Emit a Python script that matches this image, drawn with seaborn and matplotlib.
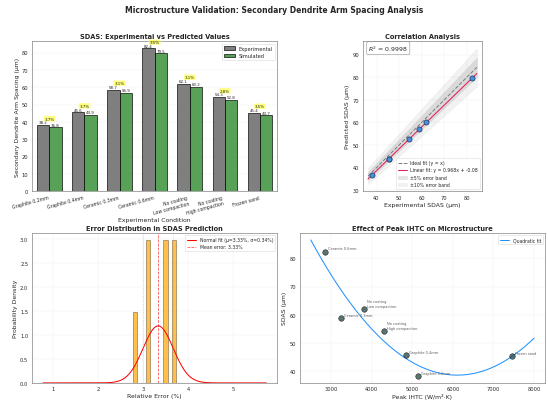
import numpy as np
import pandas as pd
import matplotlib
matplotlib.use('Agg')
import matplotlib.pyplot as plt
import seaborn as sns

sns.set_style('whitegrid')
plt.rcParams['font.family'] = ['DejaVu Sans']
plt.rcParams['axes.edgecolor'] = '0.45'
plt.rcParams['axes.linewidth'] = 1.2

# data
conditions = ['Graphite 0.2mm', 'Graphite 0.4mm', 'Ceramic 0.3mm', 'Ceramic 0.6mm',
              'No coating\nLow compaction', 'No coating\nHigh compaction', 'Frozen sand']
sdas_exp = [38.2, 45.6, 58.7, 82.4, 62.1, 54.3, 45.4]
sdas_sim = [36.8, 43.9, 56.9, 79.5, 60.2, 52.8, 43.7]
rel_error = [3.67, 3.73, 3.06, 3.51, 3.07, 2.77, 3.49]
peak_ihtc = [5150, 4850, 3250, 2850, 3800, 4300, 7450]
r2_text = '0.9998'
fit_slope, fit_icpt = 0.968, -0.08

df = pd.DataFrame({'cond': conditions, 'Experimental': sdas_exp, 'Simulated': sdas_sim})
long_df = df.melt(id_vars='cond', var_name='kind', value_name='sdas')

fig, axes = plt.subplots(2, 2, figsize=(15, 11))
fig.suptitle('Microstructure Validation: Secondary Dendrite Arm Spacing Analysis',
             fontsize=15, fontweight='bold', y=0.985)

# (1) bar chart
ax = axes[0, 0]
sns.barplot(data=long_df, x='cond', y='sdas', hue='kind', ax=ax,
            palette=['dimgray', '#2ca02c'], alpha=0.85, edgecolor='black',
            linewidth=1.5, width=0.7, gap=0)
for cont in ax.containers:
    ax.bar_label(cont, fmt='%.1f', fontsize=8, padding=1)
for i, (e, s, err) in enumerate(zip(sdas_exp, sdas_sim, rel_error)):
    ax.text(i, max(e, s) + 2.5, f'{err:.1f}%', ha='center', va='bottom', fontsize=8,
            bbox=dict(boxstyle='round,pad=0.2', facecolor='yellow', alpha=0.5))
ax.set_title('SDAS: Experimental vs Predicted Values', fontsize=13, fontweight='bold')
ax.set_xlabel('Experimental Condition', fontsize=12)
ax.set_ylabel('Secondary Dendrite Arm Spacing (μm)', fontsize=12)
ax.set_xticks(range(len(conditions)))
ax.set_xticklabels(conditions, rotation=15, ha='right', fontsize=9)
ax.legend(title=None, fontsize=10, loc='upper right')
ax.grid(axis='x', visible=False)
ax.grid(axis='y', alpha=0.3)

# (2) correlation
ax = axes[0, 1]
xs = np.linspace(min(sdas_exp) - 2, max(sdas_exp) + 2, 100)
ax.fill_between(xs, xs * 0.95, xs * 1.05, color='gray', alpha=0.2, label='±5% error band')
ax.fill_between(xs, xs * 0.90, xs * 1.10, color='gray', alpha=0.1, label='±10% error band')
ax.plot(xs, xs, '--', color='gray', lw=2, label='Ideal fit (y = x)')
ax.plot(xs, fit_slope * xs + fit_icpt, '-', color='#e6195a', lw=2,
        label=f'Linear fit: y = {fit_slope:.3f}x + {fit_icpt:.2f}')
sns.scatterplot(x=sdas_exp, y=sdas_sim, ax=ax, s=100, color='#4a90d9',
                edgecolor='#1f3f6f', linewidth=1.5, zorder=5)
ax.text(0.05, 0.985, f'$R^2$ = {r2_text}', transform=ax.transAxes, fontsize=12,
        va='top', bbox=dict(boxstyle='round', facecolor='white', edgecolor='0.4', alpha=0.8))
h, l = ax.get_legend_handles_labels()
order = [2, 3, 0, 1]
ax.legend([h[k] for k in order], [l[k] for k in order], loc='lower right', fontsize=9)
ax.set_title('Correlation Analysis', fontsize=13, fontweight='bold')
ax.set_xlabel('Experimental SDAS (μm)', fontsize=12)
ax.set_ylabel('Predicted SDAS (μm)', fontsize=12)
ax.set_aspect('equal')
ax.grid(alpha=0.3)

# (3) error distribution
ax = axes[1, 0]
mu = np.mean(rel_error)
sigma = np.std(rel_error)
sns.histplot(x=rel_error, bins=10, stat='density', ax=ax, color='orange', alpha=0.7,
             edgecolor=(0, 0, 0, 0.4), linewidth=1.5)
xe = np.linspace(min(rel_error) - 2, max(rel_error) + 2, 200)
pdf = np.exp(-0.5 * ((xe - mu) / sigma) ** 2) / (sigma * np.sqrt(2 * np.pi))
ax.plot(xe, pdf, color='red', lw=2, label=f'Normal fit (μ={mu:.2f}%, σ={sigma:.2f}%)')
ax.axvline(mu, color='red', ls='--', lw=1.5, alpha=0.7, label=f'Mean error: {mu:.2f}%')
ax.axvline(mu - sigma, color='orange', ls=':', lw=1.5, alpha=0.7)
ax.axvline(mu + sigma, color='orange', ls=':', lw=1.5, alpha=0.7)
ax.set_title('Error Distribution in SDAS Prediction', fontsize=13, fontweight='bold')
ax.set_xlabel('Relative Error (%)', fontsize=12)
ax.set_ylabel('Probability Density', fontsize=12)
ax.legend(loc='upper right', fontsize=9)
ax.grid(alpha=0.3)

# (4) IHTC effect
ax = axes[1, 1]
sns.scatterplot(x=peak_ihtc, y=sdas_exp, ax=ax, s=120, color='darkslategray',
                alpha=0.8, edgecolor='black', linewidth=1, zorder=5)
for c, xv, yv in zip(conditions, peak_ihtc, sdas_exp):
    ax.annotate(c, (xv, yv), xytext=(6, 4), textcoords='offset points',
                fontsize=7, color='0.35')
coef = np.polyfit(peak_ihtc, sdas_exp, 2)
xq = np.linspace(2500, 8000, 200)
ax.plot(xq, np.polyval(coef, xq), color='#1e90ff', lw=2, label='Quadratic fit')
ax.set_title('Effect of Peak IHTC on Microstructure', fontsize=13, fontweight='bold')
ax.set_xlabel('Peak IHTC (W/m²·K)', fontsize=12)
ax.set_ylabel('SDAS (μm)', fontsize=12)
ax.legend(loc='upper right', fontsize=9)
ax.grid(alpha=0.3)

fig.subplots_adjust(left=0.058, right=0.995, top=0.895, bottom=0.045,
                    wspace=0.09, hspace=0.28)
fig.savefig('out.png', dpi=548 / 15)
